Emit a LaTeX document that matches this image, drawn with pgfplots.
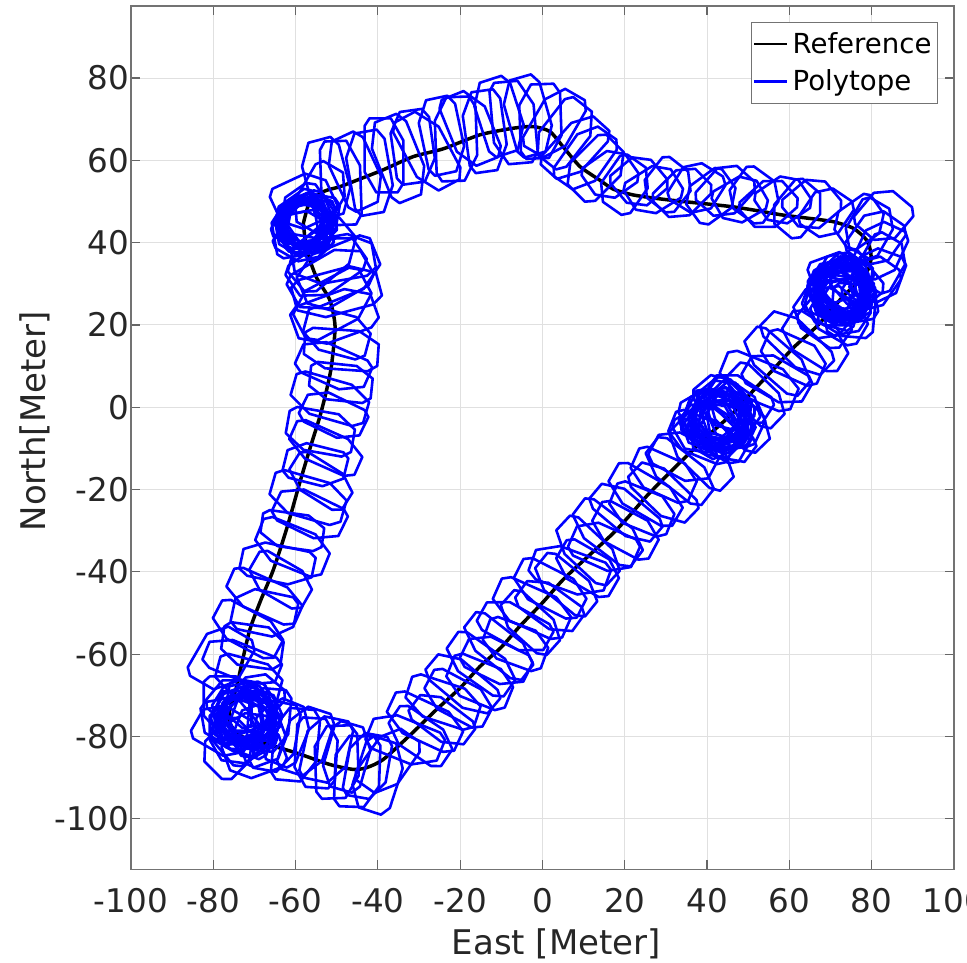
\documentclass[border=0pt]{standalone}
\usepackage{pgfplots}
\pgfplotsset{compat=1.18}
\usepackage{pgfplotstable}
\usepackage{fontspec}
\setmainfont{DejaVu Sans}
\usetikzlibrary{calc}

% one data unit of the (equal-scaled) axes, in pt
\newdimen\polyunit
\polyunit=2.0585pt

% chamfered polytope outline in local unit coordinates;
% each point rotates and stretches it (angle:halfx:halfy in column p)
\pgfdeclareplotmark{polytope}{%
  \pgfpathmoveto{\pgfpoint{1.00\polyunit}{-0.70\polyunit}}%
  \pgfpathlineto{\pgfpoint{1.00\polyunit}{0.40\polyunit}}%
  \pgfpathlineto{\pgfpoint{0.45\polyunit}{1.00\polyunit}}%
  \pgfpathlineto{\pgfpoint{-0.80\polyunit}{1.00\polyunit}}%
  \pgfpathlineto{\pgfpoint{-1.00\polyunit}{0.75\polyunit}}%
  \pgfpathlineto{\pgfpoint{-1.00\polyunit}{-0.35\polyunit}}%
  \pgfpathlineto{\pgfpoint{-0.40\polyunit}{-1.00\polyunit}}%
  \pgfpathlineto{\pgfpoint{0.75\polyunit}{-1.00\polyunit}}%
  \pgfpathclose
  \pgfusepathqstroke
}
\def\polyopen#1:#2:#3\relax{\scope[rotate=#1,xscale=#2,yscale=#3]}

% polytopes: centre x y, and p = orientation(deg):half extent x:half extent y
\pgfplotstableread{
x y p
-71.4 -66.0 -15:8.0:4.6
-73.0 -62.0 -22:-9.2:4.2
-70.5 -58.0 -8:7.4:5.0
-71.6 -54.0 -28:8.8:4.4
-67.6 -50.0 -12:-7.6:5.2
-67.6 -46.0 -24:9.4:4.3
-63.7 -42.0 -30:7.8:4.6
-64.4 -38.0 -12:-8.8:4.4
-60.8 -34.0 -22:9.0:5.0
-60.8 -30.0 -8:7.6:4.2
-56.6 -26.0 -26:-8.6:4.8
-57.0 -22.0 -16:9.2:4.9
-53.9 -18.0 -32:8.0:4.4
-55.2 -14.0 -14:-7.4:4.6
-52.7 -10.0 -24:9.0:4.3
-54.0 -6.0 -10:8.2:5.0
-50.8 -2.0 -26:-7.8:4.5
-51.7 2.0 -16:9.4:4.8
-49.0 6.0 -6:7.6:4.4
-50.8 10.0 -24:-8.8:4.6
-48.9 14.0 -4:9.0:4.8
-50.0 18.0 -15:8.0:5.0
-50.5 22.0 20:10.0:5.5
-51.0 25.0 28:-9.6:6.0
-50.0 28.0 15:10.4:5.2
-51.5 31.0 30:9.8:5.8
-49.5 33.0 22:-10.0:6.2
-52.5 34.0 35:9.2:5.6
-50.8 36.0 10:9.8:5.4
-53.5 37.0 40:-9.0:5.8
-57.5 44.5 0:6.0:5.5
-58.0 45.0 22:-6.2:5.2
-57.0 44.0 45:5.8:5.6
-56.8 45.5 67:6.4:5.0
-58.5 43.5 90:-6.0:5.4
-57.2 46.0 112:5.6:5.8
-56.5 43.0 135:6.2:5.2
-58.8 44.8 157:-6.0:5.6
-57.8 42.5 10:6.6:5.0
-56.2 44.8 80:5.8:5.4
-59.0 46.2 35:-6.0:5.0
-57.0 47.0 125:6.4:5.6
-58.2 41.5 60:5.8:5.8
-55.8 46.5 170:-6.0:5.2
-60.0 43.0 100:6.2:5.4
-57.3 44.2 15:5.4:5.0
-57.9 44.9 50:5.6:4.8
-56.9 45.2 75:-5.2:5.2
-58.3 43.8 105:5.8:4.6
-57.6 45.6 140:-5.4:5.0
-56.6 44.0 165:5.6:4.8
-58.6 45.4 5:-5.2:5.4
-57.4 43.3 85:5.8:5.0
-58.0 50.0 25:7.0:6.0
-54.0 51.0 60:-8.0:5.0
-52.5 55.7 105:9.4:5.0
-49.0 54.5 92:-10.2:4.8
-45.5 57.3 115:9.0:5.2
-42.0 57.0 100:10.0:5.0
-38.5 61.2 90:-9.0:4.7
-35.0 60.5 112:10.2:5.1
-31.5 63.3 98:8.8:4.9
-28.0 62.3 118:-9.8:5.2
-24.5 66.0 102:9.2:4.8
-21.0 65.2 92:10.2:5.0
-17.5 67.8 112:-9.0:5.2
-14.0 67.1 98:9.8:4.8
-10.5 70.7 108:9.2:5.0
-7.0 69.2 95:-10.0:5.2
-3.5 70.8 106:9.5:4.9
-0.5 69.5 92:9.0:5.0
3.0 69.0 60:8.5:5.0
5.5 66.5 52:-8.2:5.2
8.0 63.0 48:8.6:4.8
10.5 60.5 55:8.0:5.0
13.0 58.0 45:-7.6:5.4
16.5 56.5 35:5.8:5.2
20.0 54.0 55:-6.4:5.0
23.5 54.8 40:5.6:5.6
27.0 52.8 32:6.2:5.1
30.5 54.0 52:-5.6:5.2
34.0 52.0 45:6.4:5.0
37.5 53.2 58:5.8:5.5
41.0 51.2 36:-6.0:5.1
44.5 52.5 48:6.4:5.2
48.0 50.4 30:5.8:5.0
51.5 51.5 54:-5.6:5.6
55.0 49.3 42:6.2:5.1
58.5 50.3 34:5.8:5.2
62.0 48.2 50:-6.4:5.0
65.5 49.3 40:6.0:5.5
69.0 47.2 56:5.8:5.1
83.0 46.5 50:6.0:5.5
79.5 43.5 60:-6.5:5.0
81.0 41.0 55:6.5:5.5
82.0 38.0 65:6.8:5.2
82.5 35.0 60:-6.5:5.0
81.5 32.0 70:6.2:5.6
80.0 30.0 55:6.6:5.2
77.0 45.0 35:-6.0:5.0
72.5 28.0 0:6.5:5.8
73.0 28.5 15:-6.8:5.6
72.0 27.5 30:6.4:6.0
73.5 27.0 45:6.6:5.4
71.5 29.0 60:-6.8:5.8
74.0 29.5 75:6.2:5.6
72.8 26.5 90:6.6:5.8
71.0 27.0 105:-6.4:5.4
74.5 28.0 120:6.8:5.6
73.2 30.0 135:6.2:6.0
72.2 29.8 150:-6.6:5.5
70.5 25.5 165:6.4:5.8
75.0 26.0 10:6.0:5.4
74.2 31.0 40:-6.4:5.2
70.0 28.5 70:6.8:5.4
73.8 24.5 100:6.4:5.6
76.0 30.5 130:-6.2:5.0
71.5 31.5 20:6.0:5.6
69.5 23.0 50:6.6:5.4
75.5 23.5 85:-6.4:5.2
72.8 27.8 5:6.0:5.2
73.4 28.2 25:-6.2:5.0
72.4 28.6 55:6.0:5.4
73.0 27.2 80:-6.4:5.0
72.0 28.2 110:6.2:5.2
73.6 28.8 140:-6.0:5.4
72.6 26.8 170:6.4:5.0
74.0 27.6 35:6.2:5.2
71.8 27.0 95:-6.0:5.4
73.2 29.4 125:6.4:5.0
72.0 22.0 -30:7.0:5.0
68.0 21.5 -35:7.4:4.8
66.2 16.0 -32:8.4:4.6
61.8 15.5 -44:-9.4:4.4
60.9 12.0 -24:7.8:4.8
57.0 11.1 -41:9.2:4.3
56.9 6.8 -30:-8.0:4.6
52.6 6.3 -22:9.6:4.9
51.7 2.8 -44:8.2:4.4
47.8 1.9 -33:-7.8:4.7
47.7 -2.4 -46:9.0:4.5
43.4 -2.9 -26:8.4:4.8
42.5 -6.4 -37:-9.4:4.4
38.6 -7.3 -22:8.0:4.6
38.5 -11.6 -44:9.4:4.3
34.2 -12.1 -28:-7.8:4.9
33.3 -15.6 -38:9.2:4.5
29.4 -16.5 -24:8.0:4.7
29.3 -20.8 -44:-8.8:4.4
25.0 -21.3 -30:9.4:4.6
24.1 -24.8 -22:7.8:4.8
20.2 -25.7 -40:-9.0:4.3
20.1 -30.0 -28:8.2:4.7
15.8 -30.5 -37:9.4:4.5
14.9 -34.0 -24:-8.0:4.9
11.0 -34.9 -43:9.0:4.4
10.9 -39.2 -30:7.8:4.6
6.6 -39.7 -20:-9.4:4.8
5.7 -43.2 -39:8.4:4.3
1.8 -44.1 -27:9.0:4.7
1.7 -48.4 -36:-8.0:4.5
-2.6 -48.9 -24:9.6:4.9
-3.0 -52.4 -42:8.2:4.4
-6.7 -53.3 -29:-8.8:4.6
-6.6 -57.6 -20:7.8:4.8
-10.7 -58.1 -38:9.4:4.3
-11.3 -61.6 -26:-8.2:4.7
-15.0 -62.5 -35:9.0:4.5
-15.3 -66.8 -22:8.0:4.9
-19.4 -67.3 -40:-9.2:4.4
-20.5 -70.8 -28:8.4:4.6
-24.2 -71.7 -18:9.0:4.8
-24.5 -76.0 -37:-7.8:4.3
-28.6 -76.5 -25:9.4:4.7
-29.7 -80.0 -34:8.2:4.5
-33.4 -80.9 -22:-9.0:4.9
43.0 -3.0 -40:7.0:5.0
42.0 -2.0 -20:-7.2:5.4
44.0 -4.0 0:6.8:5.6
41.5 -4.5 20:7.0:5.2
44.5 -1.5 40:-6.6:5.6
43.5 -5.5 60:7.2:5.0
42.5 -0.5 80:6.8:5.4
40.5 -3.0 -60:-7.0:5.6
45.5 -3.5 100:6.6:5.2
43.0 -6.5 -30:7.4:5.0
41.0 -6.0 -45:-7.2:4.8
46.0 0.0 -35:7.0:5.2
39.5 -5.0 30:6.8:5.4
44.0 1.0 -50:-7.2:5.0
47.0 -2.5 -25:6.8:5.6
43.2 -3.4 10:6.4:5.0
42.6 -2.6 45:-6.6:4.8
43.8 -2.8 70:6.2:5.2
42.2 -3.8 -10:-6.6:5.0
44.2 -3.2 -70:6.4:4.8
42.8 -4.6 115:-6.2:5.2
43.6 -1.8 -15:6.6:5.0
41.8 -2.4 55:6.4:5.2
-37.5 -86.0 55:8.2:5.0
-40.0 -89.5 72:-8.8:5.2
-42.5 -87.2 80:7.8:5.0
-45.0 -88.5 88:8.6:5.4
-47.5 -85.0 74:-8.0:5.0
-50.0 -86.2 92:8.8:5.2
-52.5 -83.2 78:7.8:5.4
-55.0 -84.0 86:-8.4:5.0
-57.5 -81.2 72:8.2:5.2
-60.0 -82.0 85:8.8:5.4
-62.5 -79.2 68:-7.6:5.0
-65.0 -80.0 80:8.4:5.2
-72.0 -75.0 0:6.8:6.0
-72.5 -74.0 20:-7.0:5.8
-71.5 -76.0 40:6.6:6.2
-73.0 -76.5 60:7.2:5.6
-71.0 -73.5 80:-6.8:6.0
-74.0 -74.5 100:7.0:5.8
-70.5 -77.0 120:6.6:6.2
-73.5 -72.5 140:-7.2:5.6
-72.0 -78.0 160:6.8:6.0
-75.5 -76.0 10:7.0:5.4
-69.5 -75.5 70:-6.6:5.8
-74.5 -79.0 130:7.2:5.6
-70.0 -71.5 50:6.8:5.4
-76.5 -72.0 90:-6.6:5.8
-72.5 -80.5 30:7.4:5.2
-68.5 -79.5 110:7.0:5.6
-77.5 -78.5 150:-6.8:5.4
-66.5 -76.0 85:7.6:5.0
-72.3 -75.5 10:6.2:5.6
-71.7 -74.7 35:-6.4:5.4
-72.9 -75.9 65:6.2:5.8
-72.0 -76.6 95:-6.4:5.4
-71.3 -75.2 125:6.0:5.6
-73.1 -74.2 155:-6.2:5.8
-72.6 -77.2 45:6.4:5.4
-71.0 -76.4 175:6.2:5.6
-70.0 -84.0 20:7.0:5.5
-76.0 -83.0 45:-6.5:5.5
-78.0 -61.0 60:7.5:6.0
}\polytopes

\begin{document}
\begin{tikzpicture}
\begin{axis}[
  name=ax,
  x=2.0585pt, y=2.0585pt,
  xmin=-100, xmax=100, ymin=-112.3, ymax=97.5,
  xtick={-100,-80,...,100},
  xticklabels={-100,-80,-60,-40,-20,0,20,40,60,80,100},
  ytick={-100,-80,...,80},
  yticklabels={-100,-80,-60,-40,-20,0,20,40,60,80},
  grid=major,
  major grid style={line width=0.5pt, draw=black!12},
  axis line style={draw=black!55, line width=0.6pt},
  tick style={draw=black!60, line width=0.6pt},
  major tick length=4.5pt,
  tick align=inside,
  ticklabel style={font=\fontsize{16.3}{18}\selectfont, text=black!85},
  xticklabel style={yshift=-6pt},
  yticklabel style={xshift=2.5pt},
  xlabel={East [Meter]},
  ylabel={North[Meter]},
  every axis x label/.style={at={(axis description cs:0.5168,-0.0857)}, anchor=center,
    font=\fontsize{17}{20}\selectfont, text=black!85},
  every axis y label/.style={at={(axis description cs:-0.1166,0.519)}, anchor=center,
    rotate=90, font=\fontsize{17}{20}\selectfont, text=black!85},
  legend style={at={(1,1)}, anchor=north east, xshift=-8pt, yshift=-8pt,
    draw=black!55, line width=0.5pt, fill=white,
    font=\fontsize{13.8}{16}\selectfont, inner xsep=1pt, inner ysep=3pt,
    row sep=2.5pt},
  legend cell align=left,
]
% reference path
\addplot[black, line width=1.75pt, smooth, tension=0.4,
  legend image code/.code={\draw[black, line width=1pt] (0pt,0pt) -- (16.5pt,0pt);}]
  coordinates {
  (-58.1,44.7) (-56.5,50.0) (-53.0,52.5) (-49.2,53.6) (-44.0,55.6) (-38.7,57.7)
  (-31.4,60.9) (-24.1,62.8) (-15.2,66.2) (-7.1,67.8) (-2.2,68.2) (1.8,67.0)
  (5.0,63.3) (9.1,58.5) (13.9,55.2) (17.2,53.0) (22.0,51.6) (28.0,50.7)
  (34.1,50.0) (40.0,49.4) (46.3,48.7) (52.0,47.8) (58.4,46.7) (64.0,46.0)
  (70.6,45.1) (75.5,43.5) (78.7,40.7) (79.8,37.5) (79.5,34.2) (77.0,30.5)
  (73.8,27.7) (70.0,23.5) (66.6,19.6) (61.0,14.5) (56.0,9.1) (51.0,3.8)
  (46.3,-1.4) (41.0,-6.2) (35.8,-11.1) (30.5,-16.3) (25.3,-21.6) (21.0,-26.5)
  (17.2,-30.6) (11.0,-36.3) (5.0,-41.9) (0.0,-47.5) (-5.5,-53.2) (-10.0,-58.3)
  (-15.2,-63.0) (-20.0,-68.2) (-25.8,-73.5) (-32.0,-79.5) (-38.7,-85.6)
  (-42.8,-87.6) (-46.0,-88.0) (-51.7,-86.8) (-59.8,-84.0) (-67.9,-81.6)
  (-72.0,-80.5) (-74.3,-79.1) (-76.0,-76.7) (-76.0,-73.5) (-74.3,-67.8)
  (-73.0,-62.0) (-71.1,-54.0) (-68.5,-47.0) (-65.4,-39.5) (-62.0,-29.0)
  (-59.0,-18.4) (-56.5,-10.0) (-54.1,-2.3) (-52.5,4.0) (-51.3,9.9)
  (-50.4,19.6) (-51.7,26.1) (-54.9,31.5) (-57.3,38.2) (-58.1,44.7)
  };
\addlegendentry{Reference}
% polytopes along the path
\addplot[
  forget plot,
  scatter, only marks, mark=polytope,
  mark options={draw=blue, line width=1.3pt, line join=round},
  point meta=explicit symbolic,
  scatter/@pre marker code/.code={\expandafter\polyopen\pgfplotspointmeta\relax},
  scatter/@post marker code/.code={\endscope},
] table[x=x, y=y, meta=p] {\polytopes};
\addlegendimage{blue, line width=1.2pt,
  legend image code/.code={\draw[blue, line width=1.2pt] (0pt,0pt) -- (16.5pt,0pt);}}
\addlegendentry{Polytope}
\end{axis}
\pgfresetboundingbox
\path[use as bounding box] ($(ax.south west)+(-65.5pt,-46.5pt)$) rectangle ($(ax.north east)+(6.5pt,3pt)$);
\end{tikzpicture}
\end{document}
